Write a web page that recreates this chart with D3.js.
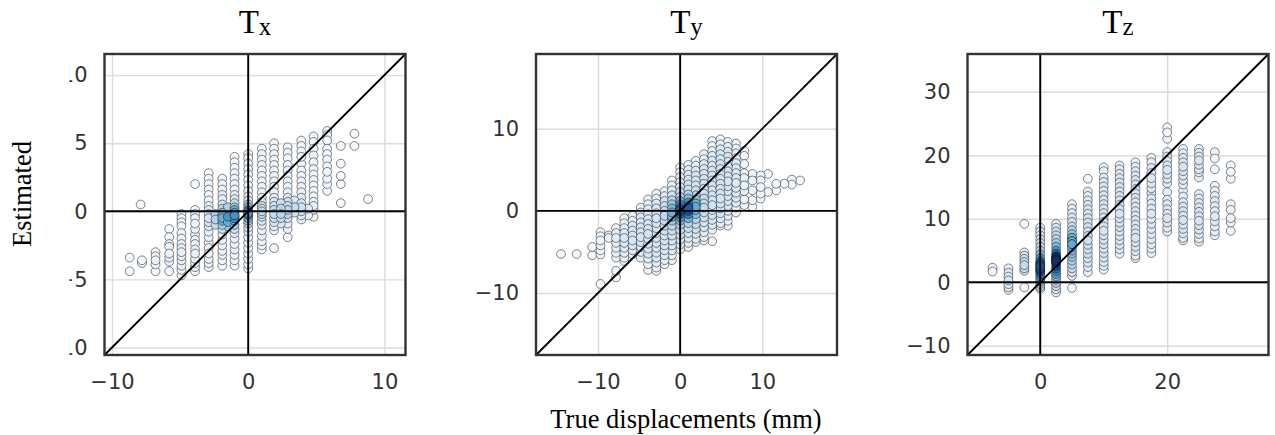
<!DOCTYPE html>
<html>
<head>
<meta charset="utf-8">
<script src="https://cdn.jsdelivr.net/npm/d3@7"></script>
<style>
  body { margin: 0; background: #fff; }
  svg { display: block; }
</style>
</head>
<body>
<div id="chart"></div>
<script>
// ---- data ----
const panelNames = ['x', 'y', 'z'];

// Tx: true displacement columns and the estimated values in each
const txTrue = [-8.7, -7.9, -7.8, -6.8, -5.8, -4.9, -3.9, -2.9, -2.4, -1.9, -1.5, -1.0, 0, 1.0, 1.9, 2.4, 2.9, 3.4, 3.9, 4.4, 4.8, 5.8, 6.8, 7.8, 8.8];
const txEst = [
  [-3.4, -4.4],
  [0.5],
  [-3.6, -3.8],
  [-3.0, -3.3, -3.6, -3.9, -4.4],
  [-1.3, -1.9, -2.4, -2.6, -3.1, -3.4, -3.7, -4.4],
  [-0.2, -0.5, -0.8, -1.1, -1.6, -2.0, -2.4, -2.7, -3.0, -3.3, -3.6, -4.0, -4.3, -4.7],
  [2.0, 0.1, -0.2, -0.5, -0.9, -1.3, -1.7, -2.1, -2.4, -2.8, -3.1, -3.5, -3.8, -4.1, -4.4],
  [2.8, 2.4, 2.0, 1.6, 1.2, 0.8, 0.4, 0.1, -0.2, -0.5, -0.8, -1.1, -1.5, -1.9, -2.3, -2.7, -3.1, -3.5, -3.8, -4.1],
  [-0.2, -0.6, -1.0],
  [2.4, 2.0, 1.6, 1.2, 0.9, 0.5, 0.2, -0.1, -0.3, -0.5, -0.7, -1.0, -1.3, -1.7, -2.1, -2.5, -2.9, -3.2, -3.6, -4.0],
  [0.3, -0.4, -0.8, -1.1],
  [4.0, 3.6, 3.2, 2.8, 2.4, 2.0, 1.6, 1.2, 0.9, 0.6, 0.3, 0.1, -0.1, -0.3, -0.3, -0.5, -0.5, -0.7, -1.0, -1.3, -1.6, -2.0, -2.4, -2.8, -3.2, -3.6, -4.0],
  [4.2, 3.9, 3.5, 3.1, 2.7, 2.3, 1.9, 1.5, 1.1, 0.8, 0.5, 0.3, 0.1, 0, 0, -0.1, -0.2, -0.2, -0.3, -0.5, -0.7, -0.9, -1.2, -1.5, -1.9, -2.3, -2.7, -3.1, -3.5, -3.9, -4.2],
  [4.6, 4.2, 3.8, 3.4, 3.0, 2.6, 2.2, 1.8, 1.4, 1.0, 0.7, 0.4, 0.2, 0, -0.2, -0.4, -0.7, -1.0, -1.4, -1.8, -2.2, -2.5, -2.8],
  [5.0, 4.6, 4.2, 3.8, 3.4, 3.0, 2.6, 2.2, 1.8, 1.4, 1.0, 0.7, 0.4, 0.1, -0.2, -0.5, -0.8, -1.1, -1.4, -2.7],
  [0.6, 0.2, -0.2, -0.5, -0.9],
  [4.7, 4.3, 3.9, 3.4, 3.0, 2.6, 2.2, 1.8, 1.4, 1.0, 0.7, 0.4, 0.1, -0.2, -0.5, -0.9, -1.3, -1.9],
  [0.8, 0.3, -0.1],
  [5.2, 4.8, 4.4, 4.0, 3.5, 3.0, 2.6, 2.2, 1.8, 1.4, 1.0, 0.6, 0.3, 0, -0.3, -0.6],
  [0.2, -0.3],
  [5.5, 5.1, 4.6, 4.1, 3.6, 3.1, 2.7, 2.3, 1.9, 1.5, 1.1, 0.7, 0.4, 0.1, -0.4],
  [5.9, 5.6, 5.2, 4.6, 4.2, 3.8, 3.3, 2.9, 2.4, 2.0, 1.5],
  [4.8, 3.5, 2.6, 2.0, 0.6],
  [5.7, 4.8],
  [0.9]
];

// Ty
const tyTrue = [-14.5, -12.6, -10.7, -9.7, -8.7, -7.8, -6.8, -5.8, -4.8, -3.9, -2.9, -1.9, -1.0, 0, 1.0, 1.9, 2.9, 3.9, 4.9, 5.8, 6.8, 7.8, 8.8, 9.8, 10.7, 11.7, 12.7, 13.6, 14.6];
const tyEst = [
  [-5.25],
  [-5.25],
  [-4.4, -5.4],
  [-2.6, -3.1, -3.6, -4.2, -4.8, -5.3, -8.9],
  [-3.0, -3.3],
  [-2.1, -2.7, -3.3, -3.9, -4.5, -5.1, -5.7, -7.3, -8.1],
  [-0.9, -1.5, -2.1, -2.7, -3.3, -3.9, -4.5, -5.1, -5.7, -6.1],
  [-0.6, -1.2, -1.8, -2.4, -3.0, -3.6, -4.2, -4.8, -5.3],
  [0.4, -0.2, -0.8, -1.4, -2.0, -2.6, -3.2, -3.8, -4.4, -5.0, -5.7],
  [1.4, 0.8, 0.2, -0.4, -1.0, -1.6, -2.2, -2.8, -3.4, -4.0, -4.6, -5.2, -5.8, -6.5, -7.2],
  [2.1, 1.5, 0.9, 0.3, -0.3, -0.9, -1.5, -2.1, -2.7, -3.3, -3.9, -4.5, -5.1, -5.7, -6.3, -6.9, -7.3],
  [2.4, 1.8, 1.2, 0.6, 0, -0.6, -1.2, -1.8, -2.4, -3.0, -3.6, -4.2, -4.8, -5.4, -6.0, -6.5],
  [3.7, 3.1, 2.5, 1.9, 1.3, 0.8, 0.3, -0.2, -0.7, -0.7, -1.2, -1.8, -2.4, -3.0, -3.6, -4.2, -4.8, -5.4, -6.0],
  [5.3, 4.7, 4.1, 3.5, 2.9, 2.3, 1.7, 1.2, 0.8, 0.4, 0.1, 0.1, -0.1, -0.1, -0.4, -0.8, -1.2, -1.7, -2.3, -2.9, -3.5, -4.1, -4.7],
  [5.6, 5.0, 4.4, 3.8, 3.2, 2.6, 2.0, 1.5, 1.0, 0.6, 0.3, 0.3, 0, 0, -0.4, -0.9, -1.5, -2.1, -2.7, -3.3, -3.9, -4.4],
  [6.1, 5.5, 4.9, 4.3, 3.7, 3.1, 2.5, 1.9, 1.4, 0.9, 0.9, 0.5, 0.1, -0.4, -1.0, -1.6, -2.2, -2.8, -3.4, -3.8],
  [6.9, 6.3, 5.7, 5.1, 4.5, 3.9, 3.3, 2.7, 2.1, 1.5, 0.9, 0.4, -0.2, -0.8, -1.4, -2.0, -2.6, -3.2, -3.6],
  [8.5, 7.9, 7.3, 6.7, 6.1, 5.5, 4.9, 4.3, 3.7, 3.1, 2.5, 1.9, 1.3, 0.7, 0.1, -0.5, -1.1, -1.7, -2.3, -3.7],
  [8.7, 8.1, 7.5, 6.9, 6.3, 5.7, 5.1, 4.5, 3.9, 3.3, 2.7, 2.1, 1.5, 0.9, 0.3, -0.3, -0.9, -1.5, -1.8],
  [8.4, 7.8, 7.2, 6.6, 6.0, 5.4, 4.8, 4.2, 3.6, 3.0, 2.4, 1.8, 1.2, 0.6, 0, -0.6, -1.2, -1.8],
  [8.2, 7.6, 7.0, 6.4, 5.8, 5.2, 4.6, 4.0, 3.4, 2.8, 2.2, 1.6, 1.0, 0.4, -0.2],
  [7.3, 6.7, 5.7, 4.6, 4.0, 3.1, 2.4, 1.4, 0.7],
  [4.5, 3.7, 2.5, 1.3, 0.5],
  [4.3, 3.7, 2.9, 2.1, 1.5],
  [4.5, 2.3],
  [3.3, 2.5],
  [3.3],
  [3.8, 3.2],
  [3.7]
];

// Tz
const tzTrue = [-7.5, -5, -2.5, 0, 2.5, 5, 7.5, 10, 12.5, 15, 17.5, 20, 22.5, 25, 27.5, 30];
const tzEst = [
  [2.3, 1.7],
  [2.2, 1.5, 0.9, 0.3, -0.3, -0.8, -1.2],
  [9.2, 4.7, 4.2, 3.7, 3.2, 2.7, 2.2, 1.8, -0.8],
  [8.6, 8.0, 7.4, 6.8, 6.2, 5.6, 5.0, 4.4, 3.8, 3.3, 3.0, 2.9, 2.6, 2.5, 2.2, 2.1, 1.8, 1.7, 1.3, 0.9, 0.5, 0.1, -0.3, -0.7, -1.0],
  [9.2, 8.6, 8.0, 7.4, 6.8, 6.2, 5.6, 5.0, 4.5, 4.1, 4.0, 3.8, 3.7, 3.6, 3.5, 3.3, 3.2, 2.9, 2.5, 2.1, 1.7, 1.3, 0.9, 0.4, -0.1, -0.6, -1.1, -1.6],
  [12.3, 11.6, 10.9, 10.2, 9.5, 8.8, 8.2, 7.6, 7.0, 7.0, 6.5, 6.5, 6.0, 6.0, 5.5, 5.0, 4.5, 4.0, 3.4, 2.8, 2.2, 1.6, 1.0, -0.9],
  [16.3, 14.3, 13.6, 12.9, 12.2, 11.5, 10.8, 10.1, 9.4, 8.7, 8.0, 7.3, 6.6, 5.9, 5.2, 4.5, 3.8, 3.1, 2.4, 1.6],
  [18.1, 17.5, 16.5, 15.8, 15.1, 14.4, 13.7, 13.0, 12.3, 11.6, 10.9, 10.2, 9.5, 8.8, 8.1, 7.4, 6.7, 6.0, 5.3, 4.6, 3.9, 3.2, 2.6, 2.0],
  [18.4, 17.8, 17.1, 16.4, 15.7, 15.0, 14.3, 13.6, 12.9, 12.2, 11.5, 10.8, 10.1, 9.4, 8.7, 8.0, 7.3, 6.6, 5.9, 5.2, 4.5],
  [18.9, 18.2, 17.5, 16.8, 16.1, 15.4, 14.7, 14.0, 13.3, 12.6, 11.9, 11.2, 10.5, 9.8, 9.1, 8.4, 7.7, 7.0, 6.3, 5.6, 4.9, 4.2, 3.8],
  [19.6, 18.9, 18.0, 17.2, 16.4, 15.6, 14.8, 14.0, 13.2, 12.4, 11.6, 10.8, 10.0, 9.2, 8.4, 7.6, 6.8, 6.0, 5.3, 4.6],
  [24.4, 23.6, 22.6, 20.5, 19.8, 19.1, 18.4, 17.7, 17.0, 16.3, 15.6, 14.2, 13.0, 12.3, 11.5, 10.8, 10.1, 9.4, 8.6, 8.0],
  [21.0, 20.3, 19.6, 18.9, 18.2, 17.5, 16.8, 16.1, 15.4, 14.4, 13.5, 12.6, 11.9, 11.2, 10.5, 9.8, 9.1, 8.4, 7.7, 7.0, 6.6],
  [21.0, 20.4, 19.8, 19.2, 18.5, 17.8, 17.3, 16.5, 13.9, 13.2, 12.5, 11.8, 11.1, 10.4, 9.7, 9.0, 8.3, 7.6, 6.9, 6.4],
  [20.5, 19.5, 17.8, 15.2, 14.4, 13.6, 12.8, 12.0, 11.2, 10.4, 9.6, 8.8, 8.0, 7.4],
  [18.4, 17.4, 16.3, 12.3, 11.4, 10.1, 9.4, 8.1]
];

// axis limits (same on both axes) and tick values per panel
const axisLimits = [[-10.55, 11.55], [-17.55, 19.1], [-11.45, 35.95]];
const xTickValues = [[-10, 0, 10], [-10, 0, 10], [0, 20]];
const yTickValues = [[-10, -5, 0, 5, 10], [-10, 0, 10], [-10, 0, 10, 20, 30]];

// ---- layout ----
const width = 1275, height = 435;
const plotTop = 54, size = 301;
const lefts = [104.5, 536, 967.5];
const darkest = [0.6, 0.8, 0.97];
const falloff = [2.6, 2.6, 1.7];

const svg = d3.select('#chart').append('svg')
    .attr('width', width)
    .attr('height', height);

// the first panel's y labels are cut off on their left side in the original
svg.append('defs').append('clipPath')
    .attr('id', 'ylabel-clip')
  .append('rect')
    .attr('x', 69.5).attr('y', 0)
    .attr('width', 40).attr('height', height);

const columns = [[txTrue, txEst], [tyTrue, tyEst], [tzTrue, tzEst]];

columns.forEach(([trueVals, estVals], p) => {
  const left = lefts[p];
  const x = d3.scaleLinear().domain(axisLimits[p]).range([left, left + size]);
  const y = d3.scaleLinear().domain(axisLimits[p]).range([plotTop + size, plotTop]);

  const g = svg.append('g');

  // grid
  g.append('g')
      .attr('transform', `translate(0, ${plotTop + size})`)
      .call(d3.axisBottom(x).tickValues(xTickValues[p]).tickSize(-size).tickFormat(''))
      .call(s => s.select('.domain').remove())
      .call(s => s.selectAll('line').attr('stroke', '#dcdcdc').attr('stroke-width', 1.4));
  g.append('g')
      .attr('transform', `translate(${left}, 0)`)
      .call(d3.axisLeft(y).tickValues(yTickValues[p]).tickSize(-size).tickFormat(''))
      .call(s => s.select('.domain').remove())
      .call(s => s.selectAll('line').attr('stroke', '#dcdcdc').attr('stroke-width', 1.4));

  // points with density colour
  const pts = [];
  trueVals.forEach((tv, i) => estVals[i].forEach(ev => pts.push({ t: tv, e: ev })));
  const bw = 8;
  pts.forEach(a => {
    let s = 0;
    pts.forEach(b => {
      const dx = x(a.t) - x(b.t), dy = y(a.e) - y(b.e);
      s += Math.exp(-(dx * dx + dy * dy) / (2 * bw * bw));
    });
    a.d = s;
  });
  const [dMin, dMax] = d3.extent(pts, d => d.d);
  pts.forEach(a => { a.k = (a.d - dMin) / (dMax - dMin); });
  pts.sort((a, b) => a.k - b.k);

  g.append('g').selectAll('circle')
    .data(pts)
    .join('circle')
      .attr('cx', d => x(d.t))
      .attr('cy', d => y(d.e))
      .attr('r', 4.4)
      .attr('fill', d => d3.interpolateBlues(0.02 + darkest[p] * Math.pow(d.k, falloff[p])))
      .attr('stroke', '#111')
      .attr('stroke-opacity', 0.85)
      .attr('stroke-width', 0.6);

  // reference lines
  const [lo, hi] = axisLimits[p];
  g.append('line')
      .attr('x1', x(0)).attr('x2', x(0)).attr('y1', plotTop).attr('y2', plotTop + size)
      .attr('stroke', '#000').attr('stroke-width', 1.9);
  g.append('line')
      .attr('x1', left).attr('x2', left + size).attr('y1', y(0)).attr('y2', y(0))
      .attr('stroke', '#000').attr('stroke-width', 1.9);
  g.append('line')
      .attr('x1', x(lo)).attr('y1', y(lo)).attr('x2', x(hi)).attr('y2', y(hi))
      .attr('stroke', '#000').attr('stroke-width', 1.9);

  // frame
  g.append('rect')
      .attr('x', left).attr('y', plotTop).attr('width', size).attr('height', size)
      .attr('fill', 'none').attr('stroke', '#333').attr('stroke-width', 2.4);

  // tick labels
  const xAx = g.append('g')
      .attr('transform', `translate(0, ${plotTop + size})`)
      .call(d3.axisBottom(x).tickValues(xTickValues[p]).tickSize(0).tickPadding(19));
  const yWrap = g.append('g');
  const yAx = yWrap.append('g')
      .attr('transform', `translate(${left}, 0)`)
      .call(d3.axisLeft(y).tickValues(yTickValues[p]).tickSize(0).tickPadding(17));
  [xAx, yAx].forEach(a => {
    a.select('.domain').remove();
    a.selectAll('text')
        .attr('fill', '#333')
        .style('font-family', '"DejaVu Sans", sans-serif')
        .style('font-size', '21px');
  });
  if (p === 0) yWrap.attr('clip-path', 'url(#ylabel-clip)');

  // title
  const title = g.append('text')
      .attr('x', left + size / 2)
      .attr('y', 33)
      .attr('text-anchor', 'middle')
      .style('font-family', '"Liberation Serif", serif')
      .style('font-size', '33px')
      .attr('fill', '#000')
      .text('T');
  title.append('tspan')
      .attr('dy', 2)
      .style('font-size', '25px')
      .text(panelNames[p]);
});

svg.append('text')
    .attr('transform', 'translate(31, 194) rotate(-90)')
    .attr('text-anchor', 'middle')
    .style('font-family', '"Liberation Serif", serif')
    .style('font-size', '26.5px')
    .text('Estimated');

svg.append('text')
    .attr('x', 686)
    .attr('y', 428)
    .attr('text-anchor', 'middle')
    .style('font-family', '"Liberation Serif", serif')
    .style('font-size', '26.5px')
    .text('True displacements (mm)');
</script>
</body>
</html>
